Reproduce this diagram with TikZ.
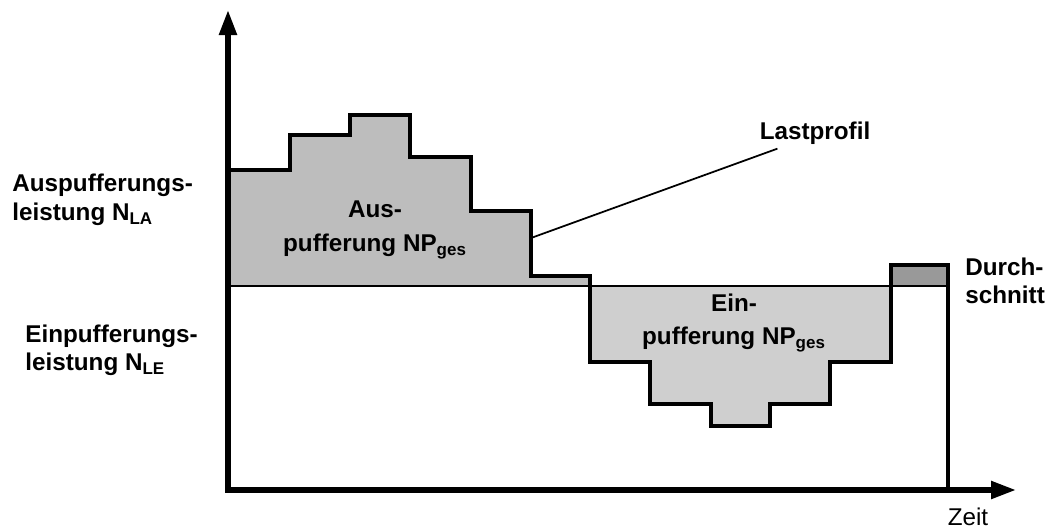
\documentclass[tikz,border=0pt]{standalone}
\usepackage{fontspec}
\setmainfont{Liberation Sans}
\usetikzlibrary{arrows.meta}
\colorlet{ausgrau}{black!26}
\colorlet{eingrau}{black!19}
\colorlet{mittelgrau}{black!40}
\begin{document}
\begin{tikzpicture}[
  achse/.style={line width=3pt, {Triangle[length=0.5cm,width=0.34cm]}-{Triangle[length=0.5cm,width=0.34cm]}},
  profil/.style={line width=2.8pt, line join=miter},
  feld/.style={font=\bfseries\fontsize{13.8}{19}\selectfont, inner sep=0pt, align=center},
  seite/.style={font=\bfseries\fontsize{13.8}{16.2}\selectfont, inner sep=0pt, align=left, anchor=west}]
\useasboundingbox (-4.56,-0.78) rectangle (16.44,9.8);
% Flaechen
\fill[ausgrau] (0,4.08) -- (0,6.4) -- (1.24,6.4) -- (1.24,7.1) -- (2.44,7.1) -- (2.44,7.5) -- (3.64,7.5) -- (3.64,6.66) -- (4.86,6.66) -- (4.86,5.58) -- (6.06,5.58) -- (6.06,4.28) -- (7.24,4.28) -- (7.24,4.08) -- cycle;
\fill[eingrau] (7.24,4.08) -- (7.24,2.56) -- (8.44,2.56) -- (8.44,1.72) -- (9.66,1.72) -- (9.66,1.28) -- (10.84,1.28) -- (10.84,1.72) -- (12.04,1.72) -- (12.04,2.56) -- (13.26,2.56) -- (13.26,4.08) -- cycle;
\fill[mittelgrau] (13.26,4.08) rectangle (14.4,4.5);
\draw[line width=0.8pt] (0,4.08) -- (14.4,4.08);
% Lastprofil
\draw[profil] (0,6.4) -- (1.24,6.4) -- (1.24,7.1) -- (2.44,7.1) -- (2.44,7.5) -- (3.64,7.5) -- (3.64,6.66) -- (4.86,6.66) -- (4.86,5.58) -- (6.06,5.58) -- (6.06,4.28) -- (7.24,4.28) -- (7.24,2.56) -- (8.44,2.56) -- (8.44,1.72) -- (9.66,1.72) -- (9.66,1.28) -- (10.84,1.28) -- (10.84,1.72) -- (12.04,1.72) -- (12.04,2.56) -- (13.26,2.56) -- (13.26,4.5) -- (14.4,4.5) -- (14.4,0);
\draw[achse] (0,9.6) |- (15.76,0);
% Beschriftung
\node[feld] (aus) at (2.94,5.2) {Aus-\\pufferung NP\textsubscript{ges}};
\node[feld] (ein) at (10.12,3.34) {Ein-\\pufferung NP\textsubscript{ges}};
\node[seite] (nla) at (-4.32,5.8) {Auspufferungs-\\leistung N\textsubscript{LA}};
\node[seite] (nle) at (-4.06,2.79) {Einpufferungs-\\leistung N\textsubscript{LE}};
\node[seite] (schnitt) at (14.74,4.18) {Durch-\\schnitt};
\node[feld] (lastprofil) at (11.74,7.14) {Lastprofil};
\node[font=\fontsize{13.8}{16}\selectfont, inner sep=0pt] (zeit) at (14.8,-0.53) {Zeit};
\coordinate (knick) at (6.06,5.04);
\draw[line width=1pt] (knick) -- ([shift={(0.36,-0.08)}]lastprofil.south west);
\end{tikzpicture}
\end{document}
